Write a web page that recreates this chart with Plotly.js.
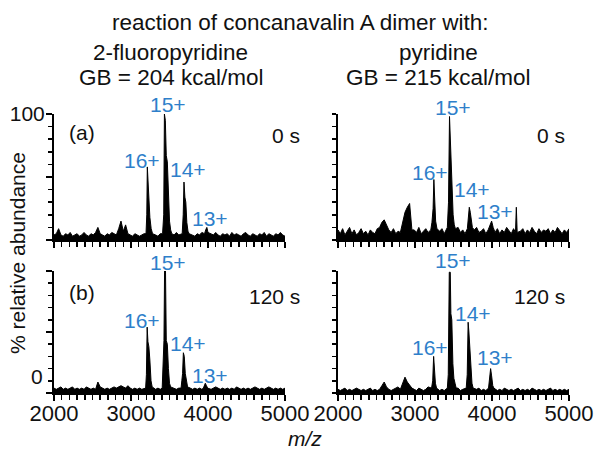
<!DOCTYPE html>
<html>
<head>
<meta charset="utf-8">
<script src="https://cdn.plot.ly/plotly-3.0.1.min.js"></script>
<style>html,body{margin:0;padding:0;background:#fff;}#chart{width:601px;height:457px;}</style>
</head>
<body>
<div id="chart"></div>
<script>
// ---- data ----
const mzGrid = [2000,2030,2060,2090,2120,2150,2180,2210,2240,2270,2300,2330,2360,2390,2420,2450,2480,2510,2540,2570,2600,2630,2660,2690,2720,2750,2780,2810,2840,2870,2900,2930,2960,2990,3020,3050,3080,3110,3140,3170,3200,3230,3260,3290,3320,3350,3380,3410,3440,3470,3500,3530,3560,3590,3620,3650,3680,3710,3740,3770,3800,3830,3860,3890,3920,3950,3980,4010,4040,4070,4100,4130,4160,4190,4220,4250,4280,4310,4340,4370,4400,4430,4460,4490,4520,4550,4580,4610,4640,4670,4700,4730,4760,4790,4820,4850,4880,4910,4940,4970,5000];

// (a) 2-fluoropyridine, 0 s
const noiseA = [4,5,9,4,3,5,4,6,3,4, 5,3,4,6,4,3,5,4,6,10, 5,4,3,5,4,6,5,4,9,15, 7,12,5,4,3,5,4,3,4,5, 4,6,3,5,4,3,5,4,6,4, 3,5,4,6,4,5,3,4,5,6, 4,3,5,4,6,5,3,4,5,4, 6,4,3,5,4,5,3,6,4,5, 4,3,5,6,4,3,5,4,3,5, 4,6,3,5,4,3,5,4,6,4,3];
const peakMzA = [3195,3205,3212,3220,3230,3245,3262,3280, 3410,3425,3434,3446,3458,3472,3486,3500,3515,3530, 3665,3678,3688,3700,3712,3725,3740,3755, 3955,3970,3985,4000];
const peakIntA = [5,20,58,45,32,18,9,5, 5,20,100,95,67,62,35,15,8,5, 5,20,46,34,30,14,7,5, 5,8,10,6];

// pyridine, 0 s
const noiseB = [8,5,9,4,7,10,5,8,4,6, 9,5,7,4,8,6,5,9,10,14, 16,12,8,6,9,5,7,6,15,22, 26,29,8,8,6,10,5,7,9,6, 8,5,10,6,7,9,5,8,6,9, 5,7,10,6,8,5,9,7,6,8, 10,6,7,9,5,8,11,7,6,9, 5,8,6,10,7,5,9,6,8,7, 9,5,8,6,10,7,5,9,6,8, 7,9,5,8,6,10,7,5,8,6,9];
const peakMzB = [3205,3220,3235,3245,3255,3268,3285, 3420,3435,3448,3458,3470,3482,3495,3510,3525, 3680,3695,3705,3718,3730,3745, 3950,3975,3995,4015, 4305,4316,4327];
const peakIntB = [8,14,25,48,30,15,9, 10,30,98,78,60,40,20,12,9, 9,20,26,22,16,10, 8,13,15,10, 6,26,6];

// (b) 2-fluoropyridine, 120 s
const noiseC = [4,3,4,5,3,4,3,4,5,3, 4,3,4,3,5,4,3,4,3,9, 5,4,3,4,3,4,5,4,5,6, 5,4,6,4,3,4,3,4,3,4, 3,4,3,4,3,4,3,4,3,4, 4,3,4,3,4,3,4,4,3,4, 3,4,3,4,3,4,3,4,3,4, 5,4,3,4,3,4,3,4,3,5, 4,3,4,3,4,3,4,5,4,3, 4,3,4,5,4,3,4,3,4,3,4];
const peakMzC = [3190,3200,3210,3220,3232,3245,3260,3275, 3405,3418,3428,3436,3448,3458,3472,3486,3500,3515, 3650,3660,3670,3680,3692,3705,3720,3735, 3940,3955,3965,3980,3995];
const peakIntC = [4,15,54,42,38,27,10,5, 4,20,43,100,100,43,40,20,8,5, 4,10,16,33,30,16,10,5, 4,7,8,6,4];

// pyridine, 120 s
const noiseD = [3,2,3,4,2,3,2,3,4,3, 2,3,2,3,4,2,3,2,3,6, 9,5,3,2,3,4,5,3,8,13, 9,6,4,3,2,4,3,2,3,5, 3,2,3,4,2,3,2,3,2,3, 2,3,4,2,3,2,3,2,3,2, 3,4,2,3,2,3,4,2,3,2, 3,2,4,3,2,3,2,3,4,2, 3,2,3,2,4,3,2,3,2,3, 2,3,4,2,3,2,3,2,3,2,3];
const peakMzD = [3215,3230,3242,3252,3265,3280, 3420,3432,3445,3458,3466,3478,3492,3505,3520,3535, 3665,3678,3690,3700,3712,3725,3740,3755, 3955,3968,3982,3995,4010,4025];
const peakIntD = [4,10,30,22,8,4, 4,15,99,99,65,60,24,12,8,4, 4,15,58,50,38,20,8,4, 4,10,20,14,6,4];

const xTickVals = [2000,3000,4000,5000];
const xTickText = ['2000','3000','4000','5000'];
const peakLabels = ['16+','15+','14+','13+'];

// ---- build spectra ----
function spectrum(noise, pmz, pint) {
  const pts = [];
  for (let i = 0; i < pmz.length; i++) pts.push([pmz[i], pint[i]]);
  for (let i = 0; i < mzGrid.length; i++) {
    const x = mzGrid[i];
    if (!pmz.some(m => Math.abs(m - x) < 16)) pts.push([x, noise[i]]);
  }
  pts.sort((a, b) => a[0] - b[0]);
  return {x: pts.map(p => p[0]), y: pts.map(p => p[1])};
}
const spA = spectrum(noiseA, peakMzA, peakIntA);
const spB = spectrum(noiseB, peakMzB, peakIntB);
const spC = spectrum(noiseC, peakMzC, peakIntC);
const spD = spectrum(noiseD, peakMzD, peakIntD);

function trace(sp, xa, ya) {
  return {x: sp.x, y: sp.y, xaxis: xa, yaxis: ya, type: 'scatter', mode: 'lines',
    line: {color: '#000', width: 1}, fill: 'tozeroy', fillcolor: '#000', hoverinfo: 'skip', showlegend: false};
}
const data = [trace(spA,'x','y'), trace(spB,'x2','y2'), trace(spC,'x3','y3'), trace(spD,'x4','y4')];

const W = 601, H = 457;
const fx = p => p / W, fy = p => 1 - p / H;
const FONT = 'Liberation Sans, Arial, sans-serif';

function xax(left, right, anchor, labels) {
  return {domain: [fx(left), fx(right)], anchor: anchor, range: [2000, 5000], showgrid: false, zeroline: false,
    showline: true, linecolor: '#000', linewidth: 2, ticks: 'outside', ticklen: 6, tickwidth: 1.5, tickcolor: '#000',
    tickmode: 'array', tickvals: xTickVals, ticktext: xTickText, showticklabels: labels, ticklabelstandoff: -6,
    tickfont: {family: FONT, size: 22, color: '#111'},
    minor: {dtick: 100, tick0: 2000, ticks: 'outside', ticklen: 5, tickwidth: 1.5, tickcolor: '#000'}};
}
function yax(top, bottom, anchor, text) {
  return {domain: [fy(bottom), fy(top)], anchor: anchor, range: [0, 100], showgrid: false, zeroline: false,
    showline: true, linecolor: '#000', linewidth: 2, ticks: 'outside', ticklen: 6, tickwidth: 1.5, tickcolor: '#000',
    tickmode: 'array', tickvals: [0, 50, 100], ticktext: text, showticklabels: true, ticklabelstandoff: -3,
    tickfont: {family: FONT, size: 21, color: '#111'},
    minor: {dtick: 10, tick0: 0, ticks: 'outside', ticklen: 4, tickwidth: 1.5, tickcolor: '#000'}};
}

const BLUE = '#2e7fca';
const annotations = [];
function txt(text, x, y, size, color, extra) {
  annotations.push(Object.assign({text: text, x: fx(x), y: fy(y), xref: 'paper', yref: 'paper', showarrow: false,
    xanchor: 'center', yanchor: 'middle', font: {family: FONT, size: size, color: color}}, extra || {}));
}
txt('reaction of concanavalin A dimer with:', 300, 22, 22.5, '#111');
txt('2-fluoropyridine', 170, 52, 22.5, '#111');
txt('GB = 204 kcal/mol', 171, 78, 22.5, '#111');
txt('pyridine', 438, 52, 22.5, '#111');
txt('GB = 215 kcal/mol', 438, 78, 22.5, '#111');
txt('% relative abundance', 18, 253, 21, '#111', {textangle: -90});
txt('<i>m/z</i>', 305, 438, 21, '#111');
txt('0', 37, 376, 21, '#111');
txt('(a)', 82, 132, 21, '#111');
txt('(b)', 82, 292, 21, '#111');
txt('0 s', 302, 135, 21, '#111', {xanchor: 'right'});
txt('0 s', 567, 135, 21, '#111', {xanchor: 'right'});
txt('120 s', 302, 296, 21, '#111', {xanchor: 'right'});
txt('120 s', 567, 296, 21, '#111', {xanchor: 'right'});
// peak labels: 16+, 15+, 14+, 13+
const labPos = [
  [[142,160],[168,105],[188,170],[210,218]],
  [[430,172],[453,107],[472,189],[495,211]],
  [[142,320],[168,262],[188,343],[210,375]],
  [[430,347],[453,260],[473,313],[495,357]]
];
labPos.forEach(panel => panel.forEach((p, i) => txt(peakLabels[i], p[0], p[1], 21, BLUE)));

const layout = {
  width: W, height: H, margin: {l: 0, r: 0, t: 0, b: 0}, paper_bgcolor: '#fff', plot_bgcolor: 'rgba(0,0,0,0)',
  showlegend: false,
  xaxis: xax(54, 285, 'y', false),
  yaxis: yax(114, 240, 'x', ['', '', '100']),
  xaxis2: xax(338, 569, 'y2', false),
  yaxis2: Object.assign(yax(114, 240, 'x2', ['', '', '']), {showticklabels: false}),
  xaxis3: xax(54, 285, 'y3', true),
  yaxis3: yax(271, 393, 'x3', ['', '', '']),
  xaxis4: xax(338, 569, 'y4', true),
  yaxis4: Object.assign(yax(271, 393, 'x4', ['', '', '']), {showticklabels: false}),
  annotations: annotations
};
Plotly.newPlot('chart', data, layout, {staticPlot: true, displayModeBar: false});
</script>
</body>
</html>
